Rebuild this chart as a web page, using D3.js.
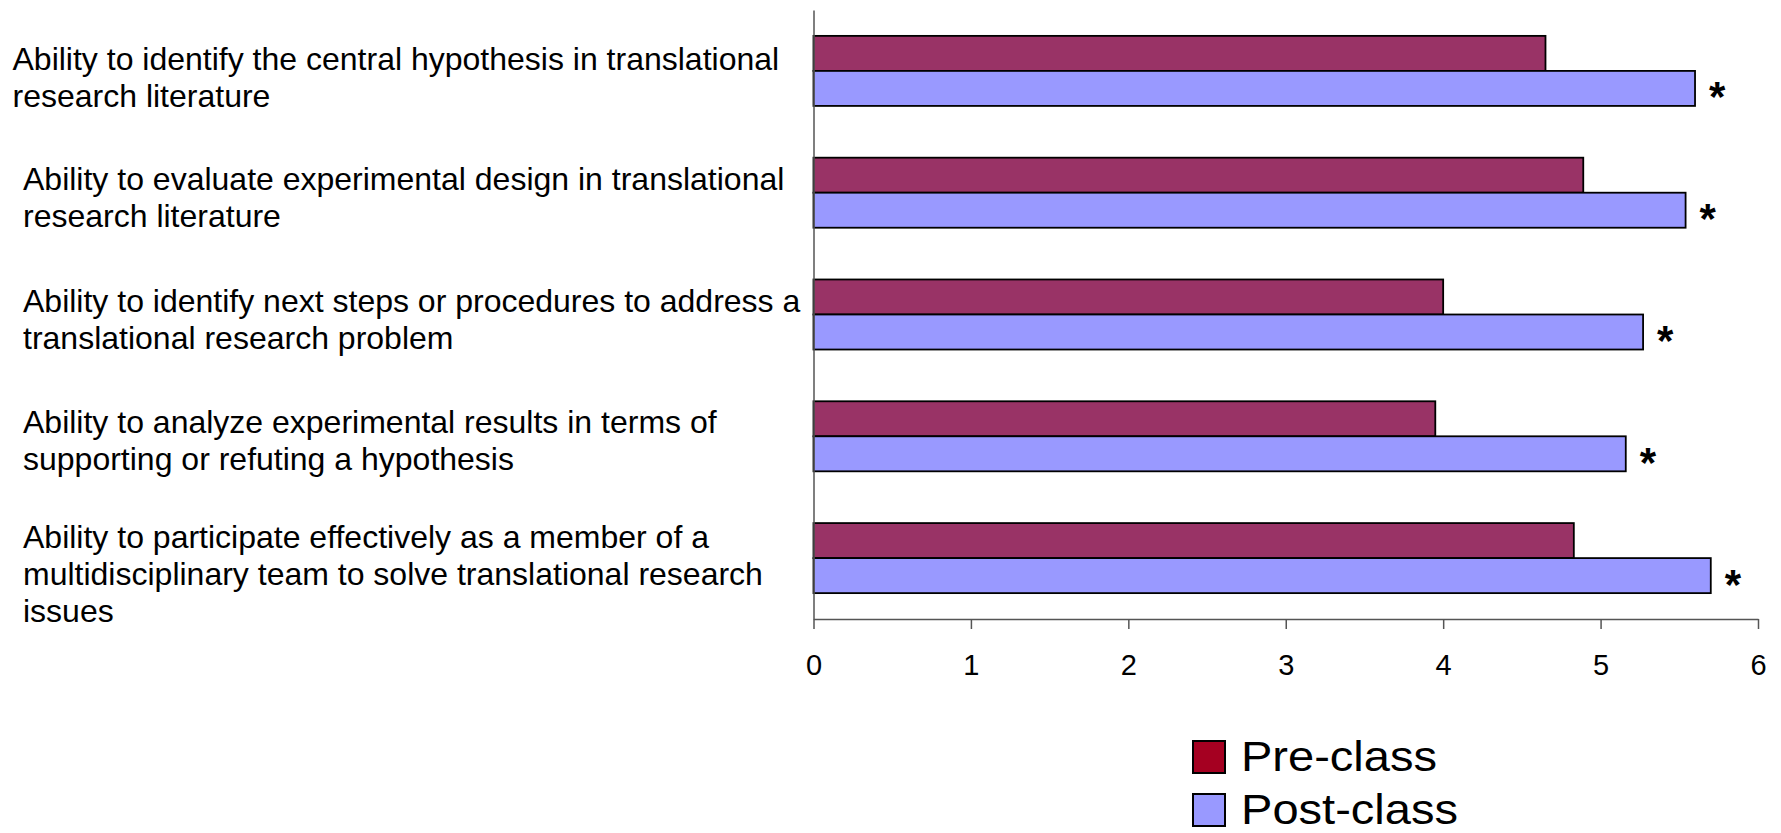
<!DOCTYPE html>
<html>
<head>
<meta charset="utf-8">
<script src="https://cdn.jsdelivr.net/npm/d3@7/dist/d3.min.js"></script>
<style>
  html, body { margin: 0; padding: 0; background: #fff; }
  svg { display: block; font-family: "Liberation Sans", Arial, sans-serif; }
</style>
</head>
<body>
<svg id="chart" width="1781" height="833"></svg>
<script>
// ---- data ----
const categories = [
  "Ability to identify the central hypothesis in translational research literature",
  "Ability to evaluate experimental design in translational research literature",
  "Ability to identify next steps or procedures to address a translational research problem",
  "Ability to analyze experimental results in terms of supporting or refuting a hypothesis",
  "Ability to participate effectively as a member of a multidisciplinary team to solve translational research issues"
];
const categoryLines = [
  ["Ability to identify the central hypothesis in translational", "research literature"],
  ["Ability to evaluate experimental design in translational", "research literature"],
  ["Ability to identify next steps or procedures to address a", "translational research problem"],
  ["Ability to analyze experimental results in terms of", "supporting or refuting a hypothesis"],
  ["Ability to participate effectively as a member of a", "multidisciplinary team to solve translational research", "issues"]
];
const seriesNames = ["Pre-class", "Post-class"];
const preClass  = [4.65, 4.89, 4.00, 3.95, 4.83];
const postClass = [5.60, 5.54, 5.27, 5.16, 5.70];
const significant = [true, true, true, true, true];
const xTicks = [0, 1, 2, 3, 4, 5, 6];

// ---- layout ----
const svg = d3.select("#chart");
const plot = { left: 813.5, right: 1758, top: 10, bottom: 619 };
const barColors = ["#993366", "#9999FF"];
const legendColors = ["#A50021", "#9999FF"];

const x = d3.scaleLinear().domain([0, 6]).range([plot.left, plot.right]);
const y = d3.scaleBand().domain(categories).range([plot.top, plot.bottom])
  .paddingInner(0.425).paddingOuter(0.2125);
const ySub = d3.scaleBand().domain(seriesNames).range([0, y.bandwidth()]);

const rows = categories.map((c, i) => ({ cat: c, i, values: [preClass[i], postClass[i]] }));

// bars
const g = svg.append("g");
rows.forEach(r => {
  r.values.forEach((v, s) => {
    g.append("rect")
      .attr("x", x(0))
      .attr("y", y(r.cat) + ySub(seriesNames[s]))
      .attr("width", x(v) - x(0))
      .attr("height", ySub.bandwidth())
      .attr("fill", barColors[s])
      .attr("stroke", "#000")
      .attr("stroke-width", 1.8);
  });
  if (significant[r.i]) {
    const cy = y(r.cat) + ySub("Post-class") + ySub.bandwidth() / 2;
    g.append("text")
      .attr("x", x(r.values[1]) + 14)
      .attr("y", cy + 23)
      .attr("font-size", 42)
      .attr("font-weight", "bold")
      .attr("fill", "#000")
      .text("*");
  }
});

// x axis
const xAxis = d3.axisBottom(x).tickValues(xTicks).tickSize(10).tickSizeOuter(0).tickFormat(d3.format("d"));
const ax = svg.append("g").attr("transform", `translate(0,${plot.bottom})`).call(xAxis);
ax.select(".domain").attr("stroke", "#555").attr("stroke-width", 1.5);
ax.selectAll(".tick line").attr("stroke", "#555").attr("stroke-width", 1.5);
ax.selectAll(".tick text")
  .attr("y", 56).attr("dy", null)
  .attr("font-size", 29)
  .attr("font-family", "'Liberation Sans', Arial, sans-serif")
  .attr("fill", "#000");

// y axis line
const yAxis = d3.axisLeft(y).tickSize(0).tickFormat("");
const ay = svg.append("g").attr("transform", `translate(${plot.left},0)`).call(yAxis);
ay.select(".domain").attr("stroke", "#555").attr("stroke-width", 1.5);

// category labels
rows.forEach(r => {
  const lines = categoryLines[r.i];
  const cy = y(r.cat) + y.bandwidth() / 2;
  const base = cy - 3 - (lines.length - 2) * 7 + (r.i === 0 ? 2 : 0);
  const tx = r.i === 0 ? 12.5 : 23;
  const t = svg.append("text")
    .attr("font-size", 32)
    .attr("fill", "#000");
  lines.forEach((ln, k) => {
    t.append("tspan").attr("x", tx).attr("y", base + k * 37).text(ln);
  });
});

// legend
const legendWidths = [196, 217];
const leg = svg.append("g");
seriesNames.forEach((n, s) => {
  const ly = 741 + s * 53;
  leg.append("rect")
    .attr("x", 1193).attr("y", ly)
    .attr("width", 32).attr("height", 32)
    .attr("fill", legendColors[s])
    .attr("stroke", "#000").attr("stroke-width", 2);
  leg.append("text")
    .attr("x", 1241).attr("y", ly + 30)
    .attr("font-size", 42)
    .attr("textLength", legendWidths[s])
    .attr("lengthAdjust", "spacingAndGlyphs")
    .attr("fill", "#000")
    .text(n);
});
</script>
</body>
</html>
